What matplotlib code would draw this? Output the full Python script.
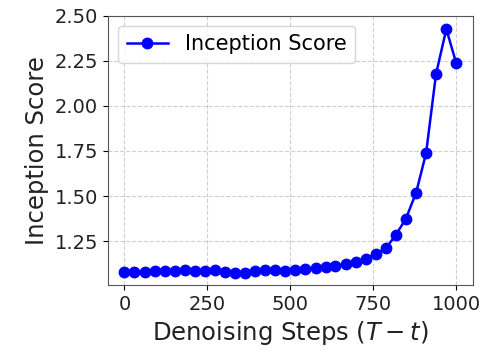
import matplotlib
matplotlib.use('Agg')
import matplotlib.pyplot as plt

steps = [0, 30, 61, 91, 121, 152, 182, 212, 242, 273, 303, 333, 364, 394, 424, 455, 485,
         515, 545, 576, 606, 636, 667, 697, 727, 758, 788, 818, 848, 879, 909, 939, 970, 1000]
inception = [1.080, 1.078, 1.080, 1.082, 1.083, 1.087, 1.088, 1.085, 1.082, 1.088, 1.080, 1.075,
             1.075, 1.082, 1.092, 1.088, 1.085, 1.088, 1.095, 1.100, 1.105, 1.112, 1.123, 1.137,
             1.152, 1.180, 1.211, 1.285, 1.374, 1.519, 1.738, 2.177, 2.426, 2.236]

fig = plt.figure(figsize=(4.88, 3.5), dpi=100)
ax = fig.add_axes([0.221, 0.186, 0.748, 0.769])
ax.plot(steps, inception, 'o-', color='blue', linewidth=1.8, markersize=7.5, label='Inception Score')
ax.set_xlabel('Denoising Steps ($T-t$)', fontsize=17.5, color='#222222')
ax.set_ylabel('Inception Score', fontsize=17.5, color='#222222')
ax.tick_params(labelsize=14, labelcolor='#222222')
ax.set_xticks([0, 250, 500, 750, 1000])
ax.set_yticks([1.25, 1.5, 1.75, 2.0, 2.25, 2.5])
ax.grid(True, linestyle='--', alpha=0.6)
ax.legend(loc='upper left', fontsize=15)
for s in ax.spines.values():
    s.set_color('#555555')

plt.savefig('out.png', dpi=100)
plt.close()
